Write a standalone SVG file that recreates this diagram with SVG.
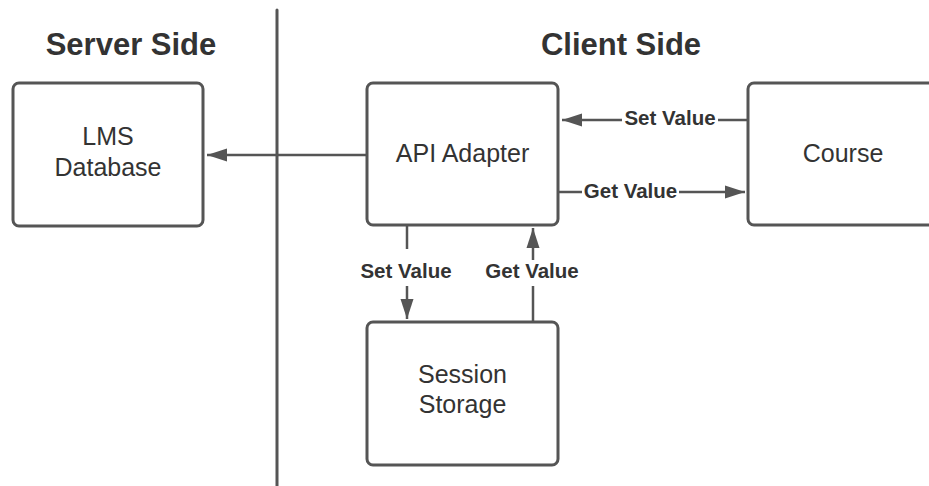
<svg xmlns="http://www.w3.org/2000/svg" width="929" height="486" viewBox="0 0 929 486">
  <defs>
    <marker id="arrow" markerUnits="userSpaceOnUse" markerWidth="20" markerHeight="14" refX="20" refY="7" orient="auto">
      <path d="M0,0.5 L20,7 L0,13.5 Z" fill="#555"/>
    </marker>
    <style>
      .box { fill: #fff; stroke: #555; stroke-width: 3; }
      .node-text { font-family: "Liberation Sans", Arial, sans-serif; font-size: 25px; fill: #333; text-anchor: middle; }
      .heading { font-family: "Liberation Sans", Arial, sans-serif; font-size: 31px; font-weight: bold; fill: #333; text-anchor: middle; }
      .edge { fill: none; stroke: #555; stroke-width: 2.5; }
      .edge-label { font-family: "Liberation Sans", Arial, sans-serif; font-size: 20.5px; font-weight: bold; fill: #333; text-anchor: middle; }
      .label-bg { fill: #fff; }
    </style>
  </defs>

  <rect width="929" height="486" fill="#fff"/>

  <!-- section headings and divider -->
  <g id="headings">
    <text class="heading" x="131" y="55">Server Side</text>
    <text class="heading" x="621" y="55">Client Side</text>
  </g>
  <line id="divider" x1="277" y1="10" x2="277" y2="486" stroke="#555" stroke-width="3" stroke-linecap="round"/>

  <!-- connectors -->
  <g id="connectors">
    <line class="edge" x1="367" y1="155" x2="207" y2="155" marker-end="url(#arrow)"/>
    <line class="edge" x1="748" y1="120" x2="562" y2="120" marker-end="url(#arrow)"/>
    <line class="edge" x1="558" y1="192" x2="745" y2="192" marker-end="url(#arrow)"/>
    <line class="edge" x1="407" y1="225" x2="407" y2="319" marker-end="url(#arrow)"/>
    <line class="edge" x1="533" y1="322" x2="533" y2="228" marker-end="url(#arrow)"/>

    <rect class="label-bg" x="622" y="106" width="96" height="22"/>
    <text class="edge-label" x="670" y="124.5">Set Value</text>
    <rect class="label-bg" x="582" y="178" width="97" height="24"/>
    <text class="edge-label" x="630.5" y="198">Get Value</text>
    <rect class="label-bg" x="357" y="249" width="100" height="37"/>
    <text class="edge-label" x="406" y="278">Set Value</text>
    <rect class="label-bg" x="483" y="260" width="100" height="26"/>
    <text class="edge-label" x="532" y="278">Get Value</text>
  </g>

  <!-- nodes -->
  <g id="lms-database">
    <rect class="box" x="13" y="83" width="190" height="143" rx="6"/>
    <text class="node-text" x="108" y="145">LMS</text>
    <text class="node-text" x="108" y="176">Database</text>
  </g>
  <g id="api-adapter">
    <rect class="box" x="367" y="83" width="191" height="142" rx="6"/>
    <text class="node-text" x="462.5" y="162">API Adapter</text>
  </g>
  <g id="course">
    <rect class="box" x="748" y="83" width="195" height="142" rx="6"/>
    <text class="node-text" x="843" y="162">Course</text>
  </g>
  <g id="session-storage">
    <rect class="box" x="367" y="322" width="191" height="143" rx="6"/>
    <text class="node-text" x="462.5" y="383">Session</text>
    <text class="node-text" x="462.5" y="413">Storage</text>
  </g>
</svg>
